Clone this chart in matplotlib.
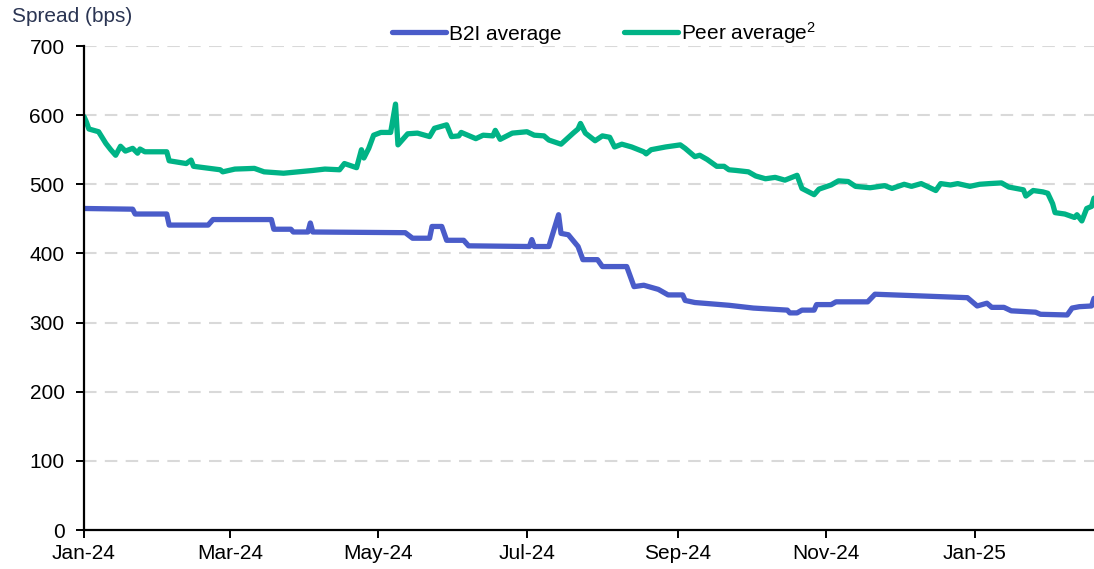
import pandas as pd
import matplotlib
matplotlib.use("Agg")
import matplotlib.pyplot as plt
import matplotlib.dates as mdates

plt.rcParams["font.family"] = ["Liberation Sans", "DejaVu Sans"]
plt.rcParams["mathtext.fontset"] = "custom"
plt.rcParams["mathtext.rm"] = "Liberation Sans"
plt.rcParams["mathtext.it"] = "Liberation Sans"

# B2I average spread (bps)
b2i_dates = ["2024-01-01", "2024-01-21", "2024-01-22", "2024-02-04", "2024-02-05",
             "2024-02-21", "2024-02-23", "2024-03-18", "2024-03-19", "2024-03-26",
             "2024-03-27", "2024-04-02", "2024-04-03", "2024-04-04", "2024-05-12",
             "2024-05-15", "2024-05-22", "2024-05-23", "2024-05-27", "2024-05-29",
             "2024-06-05", "2024-06-07", "2024-07-02", "2024-07-03", "2024-07-04",
             "2024-07-10", "2024-07-14", "2024-07-15", "2024-07-18", "2024-07-22",
             "2024-07-24", "2024-07-30", "2024-08-01", "2024-08-11", "2024-08-14",
             "2024-08-18", "2024-08-24", "2024-08-28", "2024-09-03", "2024-09-04",
             "2024-09-08", "2024-09-22", "2024-10-02", "2024-10-16", "2024-10-17",
             "2024-10-20", "2024-10-22", "2024-10-27", "2024-10-28", "2024-11-03",
             "2024-11-05", "2024-11-18", "2024-11-21", "2024-12-29", "2025-01-02",
             "2025-01-06", "2025-01-08", "2025-01-13", "2025-01-16", "2025-01-26",
             "2025-01-28", "2025-02-08", "2025-02-10", "2025-02-13", "2025-02-18",
             "2025-02-19"]
b2i_values = [465, 464, 457, 457, 441,
              441, 449, 449, 435, 435,
              431, 431, 444, 431, 430,
              422, 422, 439, 439, 419,
              419, 411, 410, 420, 410,
              410, 456, 429, 427, 410,
              391, 391, 381, 381, 352,
              354, 348, 340, 340, 332,
              329, 325, 321, 318, 314,
              314, 318, 318, 326, 326,
              330, 330, 341, 336, 324,
              328, 322, 322, 317, 315,
              312, 311, 321, 323, 324,
              335]

# Peer average spread (bps)
peer_dates = ["2024-01-01", "2024-01-02", "2024-01-03", "2024-01-07", "2024-01-10",
              "2024-01-12", "2024-01-14", "2024-01-16", "2024-01-18", "2024-01-21",
              "2024-01-23", "2024-01-24", "2024-01-26", "2024-02-04", "2024-02-05",
              "2024-02-12", "2024-02-14", "2024-02-15", "2024-02-26", "2024-02-27",
              "2024-03-03", "2024-03-11", "2024-03-15", "2024-03-23", "2024-04-04",
              "2024-04-09", "2024-04-15", "2024-04-17", "2024-04-22", "2024-04-24",
              "2024-04-25", "2024-04-27", "2024-04-29", "2024-05-02", "2024-05-06",
              "2024-05-08", "2024-05-09", "2024-05-13", "2024-05-17", "2024-05-22",
              "2024-05-24", "2024-05-29", "2024-05-31", "2024-06-03", "2024-06-04",
              "2024-06-10", "2024-06-13", "2024-06-17", "2024-06-18", "2024-06-20",
              "2024-06-25", "2024-07-01", "2024-07-04", "2024-07-08", "2024-07-10",
              "2024-07-15", "2024-07-20", "2024-07-22", "2024-07-23", "2024-07-25",
              "2024-07-29", "2024-08-01", "2024-08-04", "2024-08-06", "2024-08-09",
              "2024-08-13", "2024-08-18", "2024-08-19", "2024-08-21", "2024-08-27",
              "2024-09-02", "2024-09-04", "2024-09-08", "2024-09-10", "2024-09-13",
              "2024-09-17", "2024-09-20", "2024-09-22", "2024-09-25", "2024-09-30",
              "2024-10-03", "2024-10-07", "2024-10-11", "2024-10-15", "2024-10-20",
              "2024-10-22", "2024-10-27", "2024-10-29", "2024-11-03", "2024-11-06",
              "2024-11-10", "2024-11-13", "2024-11-19", "2024-11-25", "2024-11-28",
              "2024-12-03", "2024-12-06", "2024-12-10", "2024-12-16", "2024-12-18",
              "2024-12-22", "2024-12-25", "2024-12-30", "2025-01-03", "2025-01-07",
              "2025-01-12", "2025-01-15", "2025-01-21", "2025-01-22", "2025-01-25",
              "2025-01-29", "2025-01-31", "2025-02-02", "2025-02-03", "2025-02-07",
              "2025-02-11", "2025-02-12", "2025-02-14", "2025-02-16", "2025-02-18",
              "2025-02-19"]
peer_values = [598, 590, 580, 576, 559,
               550, 542, 555, 548, 552,
               545, 551, 547, 547, 534,
               530, 535, 526, 521, 518,
               522, 523, 518, 516, 520,
               522, 521, 530, 524, 550,
               538, 552, 571, 575, 575,
               616, 557, 573, 574, 569,
               581, 586, 569, 570, 575,
               566, 571, 570, 578, 565,
               574, 576, 571, 570, 564,
               558, 574, 580, 588, 574,
               563, 570, 568, 554, 558,
               554, 547, 544, 550, 554,
               557, 552, 540, 542, 536,
               526, 526, 521, 520, 518,
               512, 508, 510, 506, 513,
               494, 485, 493, 499, 505,
               504, 497, 495, 498, 494,
               500, 497, 501, 491, 501,
               499, 501, 497, 500, 501,
               502, 496, 492, 483, 491,
               489, 487, 472, 459, 457,
               452, 456, 447, 465, 468,
               480]

y_ticks = [0, 100, 200, 300, 400, 500, 600, 700]
x_tick_months = ["2024-01-01", "2024-03-01", "2024-05-01", "2024-07-01",
                 "2024-09-01", "2024-11-01", "2025-01-01"]

blue = "#4a5cc9"
green = "#00b386"
fs = 15

fig = plt.figure(figsize=(10.94, 5.69), dpi=100)
ax = fig.add_axes([84 / 1094, 39 / 569, 1 - 84 / 1094, 484 / 569])

ax.plot(pd.to_datetime(b2i_dates), b2i_values, color=blue, lw=3.8,
        solid_joinstyle="round", solid_capstyle="round", label="B2I average")
ax.plot(pd.to_datetime(peer_dates), peer_values, color=green, lw=3.8,
        solid_joinstyle="round", solid_capstyle="round",
        label="Peer average$^{\\mathregular{2}}$")

ax.set_xlim(pd.Timestamp("2024-01-01"), pd.Timestamp("2025-02-19"))
ax.set_ylim(0, 700)
ax.set_yticks(y_ticks)
ax.set_xticks(pd.to_datetime(x_tick_months))
ax.xaxis.set_major_formatter(mdates.DateFormatter("%b-%y"))

for v in y_ticks[1:]:
    ax.axhline(v, color="#d9d9d9", lw=1.5, dashes=(6, 4), zorder=0)

for s in ["top", "right"]:
    ax.spines[s].set_visible(False)
for s in ["left", "bottom"]:
    ax.spines[s].set_linewidth(1.6)
    ax.spines[s].set_color("black")

ax.tick_params(axis="both", direction="out", length=6, width=1.4,
               labelsize=fs, colors="black")
ax.tick_params(axis="y", pad=8)
ax.tick_params(axis="x", pad=4)

fig.text(12 / 1094, 1 - 17 / 569, "Spread (bps)", fontsize=fs,
         color="#2b3553", va="center", ha="left")

fig.legend(loc="center", bbox_to_anchor=(604 / 1094, 1 - 33 / 569), ncol=2,
           frameon=False, fontsize=fs, handlelength=2.6, handletextpad=0.15,
           columnspacing=3.0, borderaxespad=0)

fig.savefig("out.png", dpi=100)
